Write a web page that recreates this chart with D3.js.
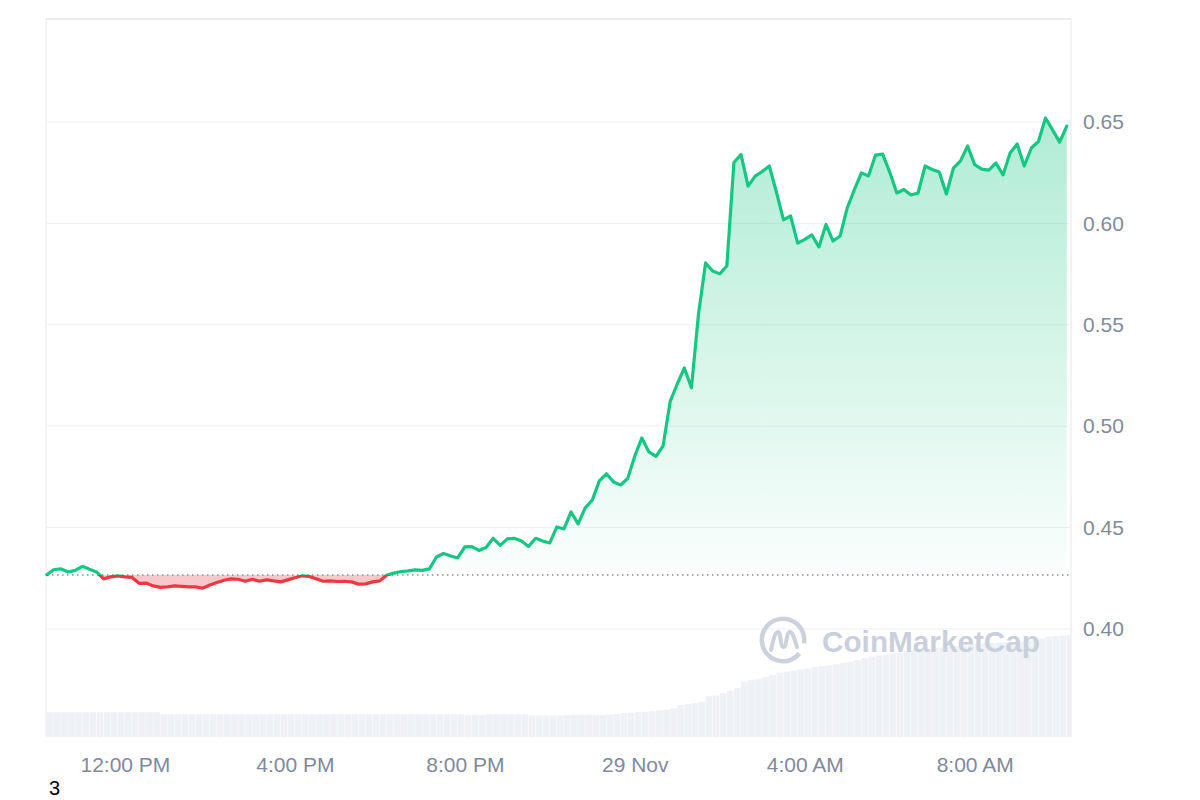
<!DOCTYPE html>
<html><head><meta charset="utf-8">
<script src="https://cdn.jsdelivr.net/npm/d3@7"></script>
<style>
body{margin:0;background:#fff;}
svg{display:block;font-family:Arial,"Liberation Sans",sans-serif;}
</style>
</head><body><svg id="chart" width="1200" height="800"></svg>
<script>
// ---------- data ----------
const startTime = new Date(2024, 10, 28, 10, 10);
const endTime = new Date(2024, 10, 29, 10, 16);
const stepMinutes = 10;
const prices = [
0.4268,0.4293,0.4296,0.4281,0.4289,0.4309,0.4294,0.4281,0.4247,0.4257,
0.4262,0.4257,0.4254,0.4225,0.4226,0.4212,0.4205,0.4207,0.4212,0.4210,
0.4207,0.4207,0.4201,0.4217,0.4229,0.4240,0.4247,0.4245,0.4235,0.4245,
0.4235,0.4242,0.4237,0.4232,0.4242,0.4252,0.4262,0.4259,0.4247,0.4235,
0.4237,0.4234,0.4235,0.4232,0.4221,0.4222,0.4232,0.4237,0.4266,0.4275,
0.4283,0.4286,0.4291,0.4289,0.4296,0.4355,0.4372,0.4360,0.4350,0.4405,
0.4406,0.4387,0.4402,0.4447,0.4412,0.4444,0.4447,0.4434,0.4407,0.4447,
0.4434,0.4424,0.4503,0.4493,0.4577,0.4518,0.4597,0.4635,0.4730,0.4765,
0.4725,0.4710,0.4742,0.4852,0.4942,0.4873,0.4851,0.4903,0.5122,0.5208,
0.5287,0.5189,0.5553,0.5805,0.5765,0.5751,0.5790,0.6300,0.6340,0.6184,
0.6233,0.6256,0.6283,0.6155,0.6017,0.6037,0.5903,0.5921,0.5943,0.5884,
0.5995,0.5913,0.5938,0.6076,0.6165,0.6249,0.6234,0.6337,0.6342,0.6253,
0.6150,0.6167,0.6140,0.6150,0.6283,0.6266,0.6253,0.6145,0.6273,0.6308,
0.6382,0.6290,0.6268,0.6263,0.6298,0.6239,0.6347,0.6392,0.6283,0.6372,
0.6404,0.6520,0.6461,0.6401,0.6480
];
const volumes = [
99,99,99,99,99,99,99,99,99,99,99,99,99,99,99,99,
91,91,91,91,91,91,91,91,91,91,91,91,91,91,91,91,91,91,91,91,91,91,91,91,91,
91,91,91,91,91,91,91,91,91,91,91,91,91,91,91,91,91,91,
88,88,88,
91,91,91,91,91,91,
86,86,86,86,86,
88,88,88,88,88,88,
90,92,95,97,99,101,103,106,109,114,128,132,136,141,163,166,175,185,196,222,
229,233,240,248,257,262,266,270,274,280,283,287,291,296,302,309,316,322,326,330,
334,338,343,347,350,352,355,358,361,364,366,369,372,375,377,378,379,380,382,385,
388,394,402,404,406,408
];
const baselinePrice = 0.4266;
const priceDomain = [0.3467, 0.7008];
const priceTicks = [0.40, 0.45, 0.50, 0.55, 0.60, 0.65];
const timeTicks = [
  new Date(2024, 10, 28, 12), new Date(2024, 10, 28, 16), new Date(2024, 10, 28, 20),
  new Date(2024, 10, 29, 0), new Date(2024, 10, 29, 4), new Date(2024, 10, 29, 8)
];
const timeTickLabels = ["12:00 PM", "4:00 PM", "8:00 PM", "29 Nov", "4:00 AM", "8:00 AM"];

// ---------- layout ----------
const L = 47, R = 1071, T = 19, B = 737;
const svg = d3.select("#chart");
const times = prices.map((p, i) => new Date(startTime.getTime() + i * stepMinutes * 60000));
const data = prices.map((p, i) => ({t: times[i], p, v: volumes[i]}));

const x = d3.scaleTime().domain([startTime, endTime]).range([L, R]);
const y = d3.scaleLinear().domain(priceDomain).range([B, T]);
const yVol = d3.scaleLinear().domain([0, d3.max(volumes)]).range([B, B - (B - T) * 0.142]);
const yBase = y(baselinePrice);

const defs = svg.append("defs");
defs.append("clipPath").attr("id", "plot").append("rect")
  .attr("x", L).attr("y", T).attr("width", R - L).attr("height", B - T);
defs.append("clipPath").attr("id", "above").append("rect")
  .attr("x", L - 2).attr("y", 0).attr("width", R - L + 6).attr("height", yBase);
defs.append("clipPath").attr("id", "below").append("rect")
  .attr("x", L - 2).attr("y", yBase).attr("width", R - L + 6).attr("height", 800 - yBase);
const gGreen = defs.append("linearGradient").attr("id", "gGreen")
  .attr("gradientUnits", "userSpaceOnUse")
  .attr("x1", 0).attr("x2", 0).attr("y1", y(d3.max(prices))).attr("y2", yBase);
gGreen.append("stop").attr("offset", 0).attr("stop-color", "#16c784").attr("stop-opacity", 0.34);
gGreen.append("stop").attr("offset", 1).attr("stop-color", "#16c784").attr("stop-opacity", 0.02);

// grid
svg.append("g").selectAll("line").data(priceTicks).join("line")
  .attr("x1", L).attr("x2", R).attr("y1", d => y(d)).attr("y2", d => y(d))
  .attr("stroke", "#eceef1").attr("stroke-width", 1);

// frame
svg.append("line").attr("x1", L - 1).attr("x2", R).attr("y1", T).attr("y2", T)
  .attr("stroke", "#e6e6e6").attr("stroke-width", 1.5);
svg.append("line").attr("x1", L - 1).attr("x2", L - 1).attr("y1", T).attr("y2", B)
  .attr("stroke", "#f0f0f0").attr("stroke-width", 1.5);
svg.append("line").attr("x1", R).attr("x2", R).attr("y1", T).attr("y2", B)
  .attr("stroke", "#efefef").attr("stroke-width", 1.5);

// volume bars
const barW = x(new Date(startTime.getTime() + stepMinutes * 60000)) - x(startTime);
svg.append("g").attr("clip-path", "url(#plot)").selectAll("rect").data(data).join("rect")
  .attr("x", d => x(d.t))
  .attr("width", barW - 0.4)
  .attr("y", d => yVol(d.v))
  .attr("height", d => B - yVol(d.v))
  .attr("fill", "#eef1f5");

// watermark
const wm = svg.append("g").attr("fill", "none").attr("stroke", "#cbd2dd");
wm.append("path")
  .attr("d", d3.arc()({innerRadius: 19, outerRadius: 23.5, startAngle: Math.PI * 0.72, endAngle: Math.PI * 2.55}))
  .attr("transform", "translate(783,640)").attr("fill", "#cbd2dd").attr("stroke", "none");
wm.append("path")
  .attr("d", "M771,650 C773,641 775,632 778,632 C781,632 780,647 783.5,647 C787,647 786,632 790,632 C793,632 795,641 797,647")
  .attr("stroke-width", 4).attr("stroke-linecap", "round");
svg.append("text").attr("x", 822).attr("y", 652).text("CoinMarketCap")
  .attr("font-size", 30).attr("font-weight", 700).attr("fill", "#c9d0dc")
  .attr("textLength", 218).attr("lengthAdjust", "spacingAndGlyphs");

// areas
const area = d3.area().x(d => x(d.t)).y0(yBase).y1(d => y(d.p));
svg.append("path").datum(data).attr("d", area).attr("fill", "url(#gGreen)").attr("clip-path", "url(#above)");
svg.append("path").datum(data).attr("d", area).attr("fill", "rgba(234,57,67,0.28)").attr("clip-path", "url(#below)");

// baseline
svg.append("line").attr("x1", L).attr("x2", R).attr("y1", yBase).attr("y2", yBase)
  .attr("stroke", "#8a8f99").attr("stroke-width", 1.4).attr("stroke-dasharray", "1.5,3.5");

// lines
const line = d3.line().x(d => x(d.t)).y(d => y(d.p));
svg.append("path").datum(data).attr("d", line).attr("fill", "none").attr("stroke", "#16c784")
  .attr("stroke-width", 3.2).attr("stroke-linejoin", "round").attr("stroke-linecap", "round").attr("clip-path", "url(#above)");
svg.append("path").datum(data).attr("d", line).attr("fill", "none").attr("stroke", "#ea3943")
  .attr("stroke-width", 3.2).attr("stroke-linejoin", "round").attr("stroke-linecap", "round").attr("clip-path", "url(#below)");

// y axis
const yAxis = d3.axisRight(y).tickValues(priceTicks).tickFormat(d3.format(".2f")).tickSize(0).tickPadding(12);
const gy = svg.append("g").attr("transform", `translate(${R},0)`).call(yAxis);
gy.select(".domain").remove();
gy.selectAll("text").attr("font-size", 21).attr("fill", "#808a9d").attr("font-family", "Arial,'Liberation Sans',sans-serif");

// x axis
const xAxis = d3.axisBottom(x).tickValues(timeTicks).tickFormat((d, i) => timeTickLabels[i]).tickSize(0).tickPadding(20);
const gx = svg.append("g").attr("transform", `translate(0,${B})`).call(xAxis);
gx.select(".domain").remove();
gx.selectAll("text").attr("font-size", 21).attr("fill", "#808a9d").attr("font-family", "Arial,'Liberation Sans',sans-serif");

// stray label
svg.append("text").attr("x", 49).attr("y", 795).text("3").attr("font-size", 20).attr("fill", "#000");
</script>
</body></html>
